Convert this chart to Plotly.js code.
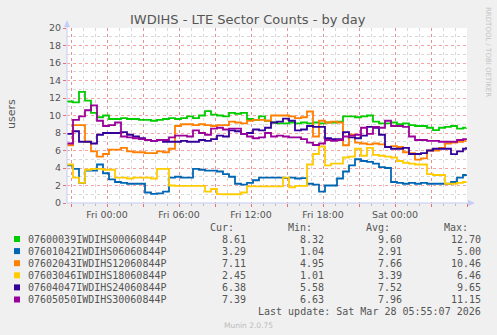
<!DOCTYPE html>
<html>
<head>
<meta charset="utf-8">
<script src="https://cdn.plot.ly/plotly-3.0.1.min.js"></script>
<style>
  body { margin: 0; background: #F0F0F0; }
  #chart { width: 497px; height: 335px; }
</style>
</head>
<body>
<div id="chart"></div>
<script>
// samples every 30 min from Thu 20:40, last one is the 05:55 reading
const names = ['07600039IWDIHS00060844P', '07601042IWDIHS06060844P', '07602043IWDIHS12060844P',
               '07603046IWDIHS18060844P', '07604047IWDIHS24060844P', '07605050IWDIHS30060844P'];
const colors = ['#00CC00', '#0066B3', '#FF8000', '#FFCC00', '#330099', '#990099'];

const s0 = [11.6,11.5,12.7,11.7,10.3,9.8,10.0,9.6,9.6,9.7, 9.6,9.6,9.5,9.5,9.4,9.5,9.6,9.7,9.6,9.7,
            9.9,9.7,10.0,10.5,10.1,10.0,9.9,10.3,10.2,10.3, 9.6,9.5,9.9,9.4,9.2,9.1,9.1,9.2,9.1,9.2,
            9.1,9.2,9.1,9.2,9.2,9.3,9.9,9.9,9.8,9.9, 10.0,9.3,9.1,9.1,9.2,9.0,9.1,8.9,8.8,8.8,
            8.6,8.32,8.6,8.7,8.8,8.5,8.6, 8.61];
const s1 = [4.3,3.9,2.3,3.7,3.7,4.4,3.4,2.7,2.4,2.3, 2.2,2.2,2.2,1.2,1.04,1.1,1.3,2.9,3.0,2.9,
            2.9,3.9,3.8,3.7,3.7,3.6,3.3,3.0,2.2,2.1, 2.3,2.6,2.9,2.9,2.9,2.9,2.85,2.9,2.8,2.85,
            2.2,2.1,1.3,2.0,2.0,2.8,3.6,4.3,5.0,4.8, 4.7,4.5,4.1,4.0,2.4,2.3,2.2,2.3,2.2,2.3,
            2.2,2.2,2.2,2.2,2.4,2.9,3.2, 3.29];
const s2 = [6.6,8.9,8.9,7.0,5.9,5.3,5.6,6.1,6.1,6.3, 5.9,5.8,5.8,5.7,5.7,5.9,5.8,6.2,8.8,9.0,
            9.0,8.9,9.0,8.9,8.8,8.9,8.9,9.3,9.2,9.1, 9.4,9.5,9.5,9.4,10.0,10.0,10.0,9.9,9.7,9.8,
            10.46,7.6,9.4,9.2,9.3,9.2,6.6,7.8,6.9,6.8, 6.7,6.8,6.7,6.4,6.5,6.4,5.8,5.7,4.95,5.1,
            6.0,6.0,6.3,6.8,6.9,7.0,7.1, 7.11];
const s3 = [4.4,2.9,2.3,3.8,3.9,3.9,3.8,3.8,2.9,2.9, 2.8,2.9,2.9,2.9,2.8,3.9,3.9,2.0,1.95,1.95,
            1.95,1.95,1.95,1.3,1.6,1.01,1.0,1.0,1.0,1.2, 1.9,1.9,1.9,1.9,1.9,1.9,2.9,1.8,1.95,1.95,
            4.4,5.6,6.46,4.3,4.5,4.5,5.2,5.3,6.2,5.4, 6.3,5.5,5.4,5.3,5.2,4.8,4.6,4.5,4.4,4.4,
            3.3,3.2,3.2,2.2,2.2,2.3,2.4, 2.45];
const s4 = [7.9,8.2,7.0,7.0,6.8,7.8,8.0,8.0,8.0,8.1, 7.8,7.6,7.4,7.2,7.1,7.2,7.0,7.0,7.0,7.1,
            7.0,7.0,7.2,7.1,7.3,7.7,7.6,8.3,8.2,7.9, 8.0,8.4,8.3,8.6,9.2,9.3,9.65,9.4,8.3,8.4,
            8.8,8.7,8.7,7.4,7.3,7.3,8.1,7.5,7.4,7.7, 8.7,8.6,7.8,6.4,6.2,6.2,6.3,5.6,5.6,5.7,
            6.0,6.2,6.2,6.2,5.58,5.9,6.2, 6.38];
const s5 = [6.8,9.5,9.9,10.6,11.15,9.4,8.8,8.9,9.2,7.6, 7.5,7.4,7.3,7.2,7.1,7.2,7.2,7.5,7.7,7.7,
            7.6,8.3,8.0,7.8,8.5,8.6,8.4,8.5,8.5,7.9, 7.6,7.4,7.5,8.0,7.6,7.7,7.6,7.5,7.5,7.3,
            6.9,6.63,6.8,7.2,7.1,7.2,7.6,7.7,7.8,8.6, 7.9,8.7,8.6,9.4,8.8,8.8,8.7,7.6,7.2,7.2,
            7.1,7.1,7.0,7.0,7.0,7.2,7.3, 7.39];
const series = [s0, s1, s2, s3, s4, s5];

const cur = ['8.61', '3.29', '7.11', '2.45', '6.38', '7.39'];
const min = ['8.32', '1.04', '4.95', '1.01', '5.58', '6.63'];
const avg = ['9.60', '2.91', '7.66', '3.39', '7.52', '7.96'];
const max = ['12.70', '5.00', '10.46', '6.46', '9.65', '11.15'];

const tickVals = ['2026-03-26 21:00', '2026-03-27 00:00', '2026-03-27 03:00', '2026-03-27 06:00',
                  '2026-03-27 09:00', '2026-03-27 12:00', '2026-03-27 15:00', '2026-03-27 18:00',
                  '2026-03-27 21:00', '2026-03-28 00:00', '2026-03-28 03:00', '2026-03-28 06:00'];
const tickText = ['', 'Fri 00:00', '', 'Fri 06:00', '', 'Fri 12:00', '', 'Fri 18:00', '', 'Sat 00:00', '', ''];

function pad(n) { return (n < 10 ? '0' : '') + n; }
function stamp(d) {
  return d.getFullYear() + '-' + pad(d.getMonth() + 1) + '-' + pad(d.getDate()) + ' ' +
         pad(d.getHours()) + ':' + pad(d.getMinutes());
}
const times = [];
const t0 = new Date(2026, 2, 26, 20, 40);
for (let k = 0; k < s0.length - 1; k++) {
  times.push(stamp(new Date(t0.getTime() + k * 30 * 60000)));
}
times.push('2026-03-28 05:55');

// pixel -> paper helpers (plot box is 67..467 x 28..203)
const L = 67, T = 28, W = 400, H = 175;
const px = x => (x - L) / W;
const py = y => (T + H - y) / H;

const traces = series.map((s, i) => ({
  x: times, y: s, type: 'scatter', mode: 'lines', name: names[i],
  line: { color: colors[i], width: 1.8, shape: 'hv' }
}));

const mono = { family: 'DejaVu Sans Mono', size: 10, color: '#555' };
const annotations = [];
const shapes = [];
function txt(x, y, text, xanchor, font, extra) {
  annotations.push(Object.assign({
    xref: 'paper', yref: 'paper', x: px(x), y: py(y), text: text,
    showarrow: false, xanchor: xanchor, yanchor: 'middle', font: font
  }, extra || {}));
}

txt(248, 19, 'IWDIHS - LTE Sector Counts - by day', 'center', { family: 'DejaVu Sans', size: 13, color: '#555' });
txt(11, 114, 'users', 'center', { family: 'DejaVu Sans', size: 11, color: '#555' }, { textangle: -90 });
txt(488, 52, 'RRDTOOL / TOBI OETIKER', 'center', { family: 'DejaVu Sans', size: 7, color: '#c4c4c4' }, { textangle: 90 });

txt(236, 227, 'Cur:', 'right', mono);
txt(314, 227, 'Min:', 'right', mono);
txt(392, 227, 'Avg:', 'right', mono);
txt(470, 227, 'Max:', 'right', mono);

names.forEach((n, i) => {
  const y = 239 + i * 12.1;
  shapes.push({ type: 'rect', xref: 'paper', yref: 'paper',
    x0: px(14), x1: px(20), y0: py(y + 3), y1: py(y - 3),
    fillcolor: colors[i], line: { width: 0 } });
  txt(26, y, n, 'left', mono);
  txt(248, y, cur[i], 'right', mono);
  txt(326, y, min[i], 'right', mono);
  txt(404, y, avg[i], 'right', mono);
  txt(483, y, max[i], 'right', mono);
});
txt(483, 311.5, 'Last update: Sat Mar 28 05:55:07 2026', 'right', mono);
txt(248, 325, 'Munin 2.0.75', 'center', { family: 'DejaVu Sans', size: 7.5, color: '#bbb' });

// axes with arrow heads
const axisColor = '#C5CCF5';
shapes.push({ type: 'line', xref: 'paper', yref: 'paper', x0: px(67), x1: px(67), y0: py(203), y1: py(24),
  line: { color: axisColor, width: 1 } });
shapes.push({ type: 'line', xref: 'paper', yref: 'paper', x0: px(67), x1: px(470), y0: py(203), y1: py(203),
  line: { color: axisColor, width: 1 } });
shapes.push({ type: 'path', xref: 'paper', yref: 'paper',
  path: 'M' + px(64) + ',' + py(27) + ' L' + px(70) + ',' + py(27) + ' L' + px(67) + ',' + py(20) + ' Z',
  fillcolor: axisColor, line: { width: 0 } });
shapes.push({ type: 'path', xref: 'paper', yref: 'paper',
  path: 'M' + px(468) + ',' + py(200) + ' L' + px(468) + ',' + py(206) + ' L' + px(475) + ',' + py(203) + ' Z',
  fillcolor: axisColor, line: { width: 0 } });

const majorGrid = 'rgba(235,90,90,0.55)';
const minorGrid = '#D8D8D8';
const tickFont = { family: 'DejaVu Sans', size: 9.5, color: '#555' };

const layout = {
  width: 497, height: 335,
  margin: { l: L, r: 497 - L - W, t: T, b: 335 - T - H, pad: 0 },
  paper_bgcolor: '#F0F0F0', plot_bgcolor: '#FFFFFF',
  showlegend: false,
  font: { family: 'DejaVu Sans', color: '#555' },
  xaxis: {
    type: 'date', range: ['2026-03-26 20:40', '2026-03-28 06:00'],
    tickmode: 'array', tickvals: tickVals, ticktext: tickText,
    showgrid: true, gridcolor: majorGrid, griddash: 'dot', gridwidth: 1,
    ticks: 'outside', ticklen: 3, tickcolor: '#E87070',
    tickfont: tickFont, zeroline: false, showline: false, fixedrange: true,
    minor: { dtick: 3600000, tick0: '2026-03-26 21:00', showgrid: true, gridcolor: minorGrid,
             griddash: 'dot', ticks: 'outside', ticklen: 2, tickcolor: '#bbb' }
  },
  yaxis: {
    range: [0, 20], tick0: 0, dtick: 2,
    showgrid: true, gridcolor: majorGrid, griddash: 'dot', gridwidth: 1,
    ticks: 'outside', ticklen: 3, tickcolor: '#E87070',
    tickfont: tickFont, zeroline: false, showline: false, fixedrange: true,
    minor: { dtick: 1, showgrid: true, gridcolor: minorGrid, griddash: 'dot' }
  },
  annotations: annotations,
  shapes: shapes
};

Plotly.newPlot('chart', traces, layout, { staticPlot: true, displayModeBar: false });
</script>
</body>
</html>
